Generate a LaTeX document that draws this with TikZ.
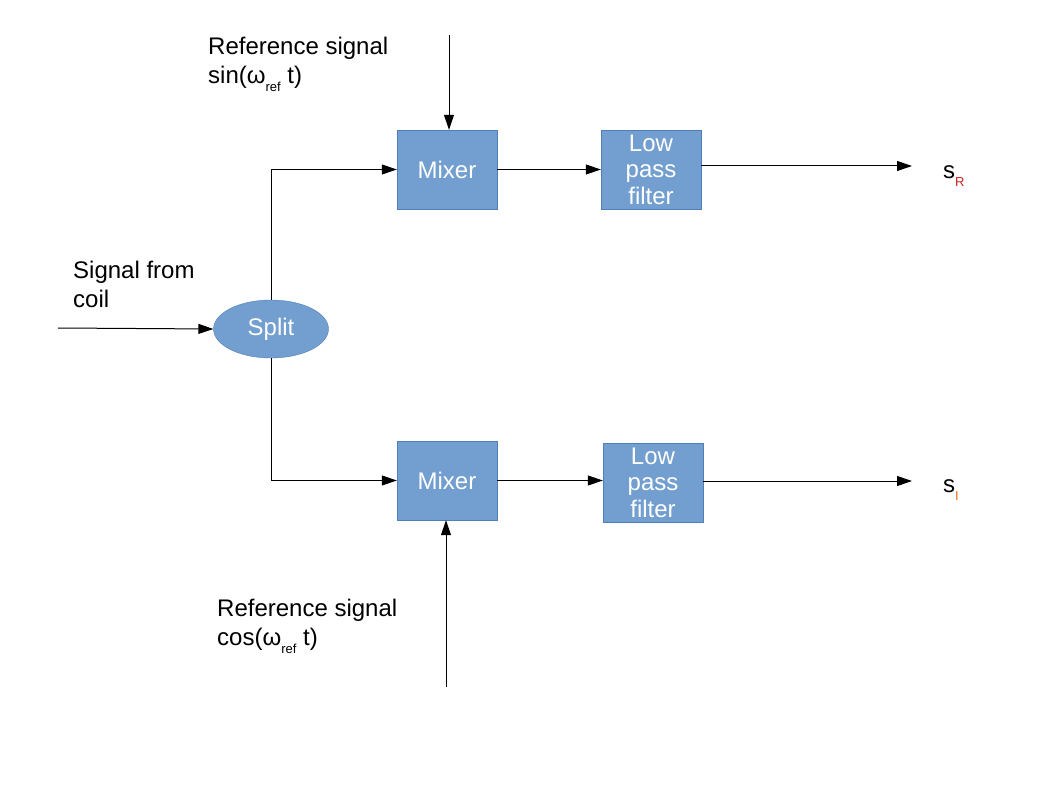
\documentclass[tikz,border=0pt]{standalone}
\usepackage{fontspec}
\setmainfont{Liberation Sans}
\usepackage{xcolor}
\usepackage{tikz}
\usetikzlibrary{shapes.geometric, arrows.meta, positioning}
\definecolor{blockBlue}{HTML}{729FCF}
\definecolor{blockEdge}{HTML}{4F7FBA}
\definecolor{subRed}{HTML}{C9211E}
\definecolor{subOrange}{HTML}{E16B1A}
\newcommand{\lowsub}[1]{\raisebox{-8pt}{\fontsize{13}{13}\selectfont #1}}

\begin{document}
\begin{tikzpicture}[x=1pt, y=-1pt,
        block/.style={draw=blockEdge, fill=blockBlue, text=white, minimum width=100pt, minimum height=79pt, inner sep=0pt, align=center, font=\fontsize{24}{26.5}\selectfont},
        txt/.style={inner sep=0pt, align=left, anchor=base west, font=\fontsize{24}{29}\selectfont},
        sig/.style={-{Triangle[length=15pt, width=10pt]}, line width=1pt}]
        \useasboundingbox (0,0) rectangle (1058,794);

        % Bloques
        \node[block] (mixT) at (447,169.5) {Mixer};
        \node[block] (lpfT) at (651,169.5) {Low\\pass\\filter};
        \node[block] (mixB) at (447,480.5) {Mixer};
        \node[block] (lpfB) at (653,482.5) {Low\\pass\\filter};
        \node[block, ellipse, minimum width=115pt, minimum height=58pt] (split) at (271,329) {Split};

        % Textos (base = ultima linea)
        \node[txt] (coil) at (73,308) {Signal from\\coil};
        \node[txt] (refSin) at (208,84) {Reference signal\\sin(ω\lowsub{ref} t)};
        \node[txt] (refCos) at (217,645) {Reference signal\\cos(ω\lowsub{ref} t)};
        \node[txt] (sR) at (943,179) {s\lowsub{\color{subRed}R}};
        \node[txt] (sI) at (943,492) {s\lowsub{\color{subOrange}I}};

        % Extremos libres
        \coordinate (coilIn) at (58,328);
        \coordinate (sinIn) at (449,35);
        \coordinate (cosIn) at (446,687);
        \coordinate (outR) at (912,166);
        \coordinate (outI) at (912,481);

        % Flechas
        \draw[sig] (coilIn) -- (split.west);
        \draw[sig] (split.north) |- (mixT.west);
        \draw[sig] (split.south) |- (mixB.west);
        \draw[sig] (sinIn) -- (sinIn |- mixT.north);
        \draw[sig] (cosIn) -- (cosIn |- mixB.south);
        \draw[sig] (mixT) -- (lpfT);
        \draw[sig] (mixB.east) -- (mixB.east -| lpfB.west);
        \draw[sig] (lpfT.east |- outR) -- (outR);
        \draw[sig] (lpfB.east |- outI) -- (outI);
    \end{tikzpicture}
\end{document}
